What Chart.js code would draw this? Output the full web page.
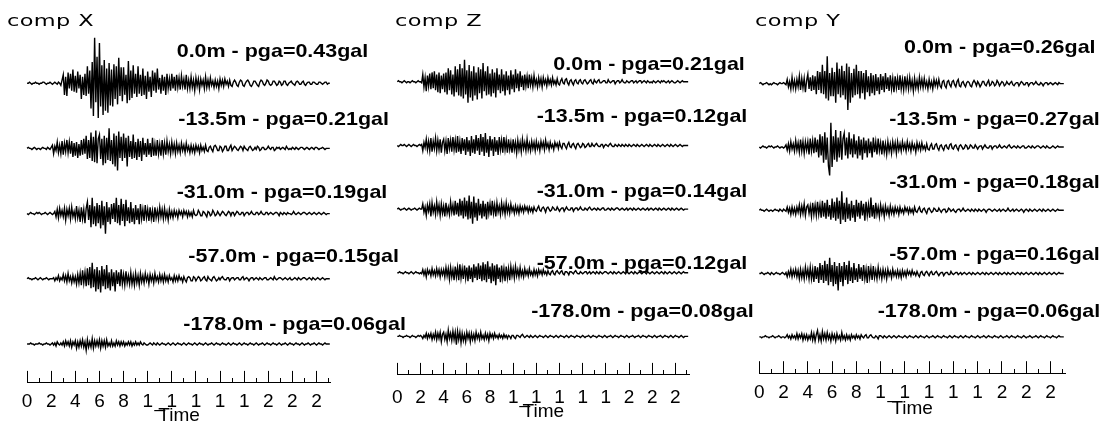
<!DOCTYPE html>
<html>
<head>
<meta charset="utf-8">
<script src="https://cdn.jsdelivr.net/npm/chart.js@4.4.1/dist/chart.umd.min.js"></script>
<style>
html,body{margin:0;padding:0;background:#fff;}
#wrap{position:relative;width:1106px;height:425px;}
#wrap canvas{position:absolute;left:0;top:0;}
</style>
</head>
<body>
<div id="wrap">
<canvas id="compX" width="1106" height="425"></canvas>
<canvas id="compZ" width="1106" height="425"></canvas>
<canvas id="compY" width="1106" height="425"></canvas>
</div>
<script>

// depth of each sensor (m) and peak ground acceleration (gal) per component
const depths = [0.0, -13.5, -31.0, -57.0, -178.0];
const pgaX = [0.43, 0.21, 0.19, 0.15, 0.06];
const pgaZ = [0.21, 0.12, 0.14, 0.12, 0.08];
const pgaY = [0.26, 0.27, 0.18, 0.16, 0.06];

// time axis labels, one per second (0..25)
const timeTicks = ['0','','2','','4','','6','','8','','1','_','1','','1','','1','','1','','2','','2','','2',''];

// sample step of the records (s), one row = one second
const dt = 0.1;

// acceleration records (gal), comp X
const accX0 = [
0,0,.01,0,-.01,0,0,.01,0,0,
-.01,0,0,.01,.01,0,-.01,0,0,.01,
0,-.01,0,.01,0,-.01,.01,0,-.02,.03,
.08,-.11,.06,-.12,.10,-.05,.09,-.07,.13,-.08,
.07,-.09,.11,-.05,.08,-.15,.06,-.11,.09,-.12,
.16,-.10,.12,-.24,.20,-.31,.43,-.18,.25,-.33,
.38,-.22,.17,-.30,.22,-.26,.14,-.28,.19,-.21,
.13,-.22,.18,-.15,.16,-.20,.24,-.12,.15,-.17,
.15,-.11,.08,-.19,.21,-.16,.12,-.14,.17,-.10,
.09,-.13,.16,-.10,.08,-.12,.14,-.11,.07,-.15,
.11,-.08,.06,-.13,.12,-.07,.10,-.09,.14,-.06,
.05,-.10,.08,-.07,.06,-.11,.09,-.05,.04,-.07,
.09,-.05,.06,-.07,.08,-.04,.05,-.06,.07,-.03,
.04,-.06,.08,-.05,.03,-.05,.06,-.04,.03,-.07,
.05,-.03,.04,-.06,.04,-.02,.03,-.05,.06,-.04,
.03,-.04,.05,-.02,.02,-.04,.03,-.03,.02,-.05,
.04,-.02,.03,-.03,.04,-.01,.02,-.03,.03,-.02,
-.03,.01,.03,.01,-.02,-.03,.01,.03,.02,-.02,
-.03,0,.02,.03,.01,-.02,-.03,-.01,.02,.02,
0,-.02,-.03,.01,.03,.02,-.01,-.02,0,.03,
.02,-.01,-.02,-.01,.02,.02,0,-.02,-.01,.02,
.01,-.02,-.01,.02,.02,-.01,-.02,0,.01,.02,
0,-.01,-.02,.01,.02,.01,-.01,-.01,.01,.02,
-.01,-.02,0,.01,.01,-.01,-.01,.01,.01,0,
-.01,-.01,.01,.01,0,-.01,0,.01,.01,-.01,
0,0];
const accX13 = [
0,.01,0,0,-.01,0,.01,0,-.01,0,
0,-.01,0,.01,0,0,-.01,.01,0,-.01,
.01,.03,-.05,.02,-.02,.06,-.04,.03,-.05,.07,
-.06,.05,-.03,.08,-.04,.06,-.05,.07,-.08,.05,
-.07,.06,-.09,.04,-.07,.08,-.06,.09,-.05,.12,
-.10,.08,-.09,.15,-.12,.11,-.13,.17,-.14,.09,
.13,-.10,.09,-.16,.12,-.14,.10,-.11,.19,-.12,
.08,-.15,.14,-.17,.12,-.21,.16,-.09,.11,-.12,
.14,-.09,.10,-.17,.12,-.08,.07,-.10,.13,-.09,
.06,-.11,.09,-.08,.07,-.12,.10,-.06,.05,-.08,
.09,-.06,.05,-.08,.10,-.07,.04,-.07,.08,-.05,
.04,-.07,.08,-.05,.05,-.06,.07,-.03,.04,-.05,
.06,-.03,.04,-.05,.05,-.03,.03,-.04,.05,-.02,
.03,-.04,.05,-.02,.02,-.04,.03,-.03,.02,-.04,
.03,-.02,.02,-.04,.03,-.02,.01,-.03,.03,-.02,
-.03,.01,.02,-.01,-.03,.02,.03,.01,-.02,-.02,
.02,.01,-.03,-.01,.02,.02,-.02,-.02,.01,.03,
-.02,0,.02,.01,-.01,-.02,0,.02,.01,-.02,
.02,0,-.01,-.02,.01,.02,0,-.02,-.01,.01,
-.01,.02,.01,-.02,-.01,.01,.01,-.01,-.01,0,
.02,0,-.01,.01,.01,-.02,-.01,.01,0,.01,
-.01,0,.01,0,-.01,.02,0,-.01,0,-.01,
.01,0,-.01,.01,0,-.01,0,.01,.01,0,
-.01,0,.01,0,-.01,0,.01,0,-.01,.01,
.01,0,-.01,0,0,.01,0,-.01,0,0,
0,0];
const accX31 = [
0,-.01,0,.01,0,0,-.01,0,.01,0,
.01,0,-.01,0,0,.01,0,-.01,0,.01,
0,-.01,0,.02,-.03,.04,-.04,.05,-.02,.03,
-.03,.05,-.06,.04,-.02,.05,-.05,.06,-.03,.02,
-.05,.07,-.04,.03,-.08,.06,-.05,.04,-.09,.05,
.11,-.06,.08,-.13,.15,-.10,.07,-.12,.10,-.09,
.08,-.14,.12,-.11,.07,-.19,.11,-.08,.06,-.10,
.09,-.05,.10,-.08,.15,-.09,.08,-.11,.14,-.07,
.09,-.12,.13,-.07,.06,-.09,.11,-.08,.05,-.10,
.08,-.06,.05,-.10,.09,-.05,.04,-.07,.08,-.04,
.04,-.07,.06,-.05,.03,-.08,.06,-.04,.03,-.05,
.06,-.03,.04,-.05,.05,-.04,.02,-.06,.04,-.03,
.02,-.04,.03,-.02,.02,-.04,.03,-.01,.02,-.03,
.03,-.01,.02,-.03,.02,-.02,.01,-.03,.03,-.01,
-.02,-.01,.03,.01,-.02,-.02,.02,.01,-.01,-.03,
.02,.01,-.02,-.01,.03,.01,-.02,-.01,.02,0,
-.02,0,.02,.01,-.01,-.02,0,.02,.01,-.02,
.01,.01,-.02,0,.02,.01,-.01,-.01,.01,.01,
-.02,0,.01,.01,-.01,0,.02,0,-.01,-.01,
.01,.01,-.01,0,.02,0,-.01,-.01,.01,.01,
-.01,0,.01,0,-.01,0,.01,.01,0,-.02,
.01,0,-.01,.01,0,-.01,.01,0,0,-.01,
0,.02,0,-.01,0,.01,0,-.01,0,.01,
.01,0,-.01,0,.01,0,-.01,0,.01,0,
-.01,0,.01,0,-.01,0,.01,0,-.01,0,
0,0];
const accX57 = [
0,.01,0,0,-.01,0,0,.01,0,-.01,
0,.01,0,-.01,0,0,.01,0,-.01,0,
0,0,.01,-.02,.01,-.01,.03,-.02,.01,-.01,
.04,-.02,.03,-.03,.05,-.02,.02,-.04,.03,-.03,
.02,-.05,.04,-.04,.05,-.06,.08,-.04,.06,-.07,
.10,-.06,.11,-.09,.15,-.08,.09,-.12,.11,-.10,
.08,-.13,.12,-.07,.09,-.10,.13,-.09,.06,-.11,
.09,-.07,.06,-.12,.08,-.05,.06,-.07,.09,-.05,
.04,-.06,.07,-.04,.03,-.05,.06,-.05,.03,-.06,
.05,-.04,.03,-.06,.05,-.03,.03,-.04,.05,-.02,
.03,-.05,.04,-.02,.03,-.04,.05,-.02,.02,-.03,
.04,-.02,.03,-.03,.04,-.02,.02,-.03,.03,-.01,
.01,-.03,.03,-.02,.02,-.02,.03,-.01,.01,-.03,
.02,-.01,-.03,.01,.02,.01,-.02,-.02,.02,.01,
-.02,0,.02,.01,-.02,-.01,.01,.02,-.01,-.02,
.02,0,-.01,-.02,.01,.02,0,-.02,-.01,.01,
-.01,.01,.02,0,-.01,-.01,.01,.01,-.02,0,
.01,.01,-.01,0,.01,.01,-.01,-.01,.01,.02,
-.01,0,.01,0,-.02,0,.01,.01,-.01,0,
.01,0,-.01,.01,0,-.01,0,.01,.01,-.01,
-.01,0,.01,0,-.01,.02,0,-.01,0,.01,
.01,0,-.01,0,.01,0,-.01,0,.01,-.01,
-.01,0,.01,0,-.01,.01,0,-.01,0,.01,
.01,0,-.01,0,.01,0,-.01,.01,0,-.01,
0,.01,0,-.01,0,.01,0,-.01,0,0,
0,0];
const accX178 = [
0,0,0,.01,0,0,-.01,0,0,0,
.01,0,0,-.01,0,0,.01,0,0,-.01,
0,.01,-.01,.01,-.02,.02,0,-.01,.01,-.01,
.02,-.02,.03,-.01,.02,-.02,.03,-.03,.02,-.01,
.03,-.04,.02,-.03,.03,-.02,.04,-.03,.02,-.06,
.04,-.03,.02,-.03,.05,-.04,.03,-.02,.03,-.02,
.04,-.04,.03,-.02,.03,-.03,.04,-.02,.01,-.02,
.03,-.02,.01,-.02,.03,-.01,.02,-.02,.02,-.01,
.02,-.02,.01,-.01,.02,-.01,.02,-.02,.01,-.01,
.02,-.01,.01,-.01,.02,0,-.01,.01,0,-.01,
-.01,0,.01,0,-.01,.01,0,-.01,.01,0,
-.01,0,.01,0,0,-.01,0,.01,0,-.01,
0,.01,0,-.01,0,.01,0,0,-.01,0,
.01,0,-.01,0,.01,0,0,-.01,0,.01,
0,-.01,0,.01,0,0,-.01,0,.01,0,
-.01,0,0,.01,0,-.01,0,.01,0,0,
-.01,0,.01,0,0,-.01,0,.01,0,-.01,
0,.01,0,0,-.01,0,.01,0,-.01,0,
.01,0,0,-.01,0,.01,0,0,-.01,0,
.01,0,-.01,0,0,.01,0,-.01,0,.01,
0,0,-.01,0,.01,0,0,-.01,0,.01,
0,-.01,0,0,.01,0,-.01,0,.01,0,
0,-.01,0,.01,0,0,-.01,0,.01,0,
-.01,0,0,.01,0,-.01,0,0,.01,0,
-.01,0,.01,0,0,-.01,0,.01,0,0,
0,0];

// comp Z
const accZ0 = [
0,.01,0,0,-.01,0,.01,0,-.01,0,
0,-.01,0,.01,0,0,-.01,0,.01,0,
0,-.01,.07,-.05,.04,-.09,.06,-.04,.08,-.07,
.09,-.06,.10,-.08,.07,-.10,.09,-.11,.06,-.07,
.08,-.10,.09,-.12,.13,-.08,.11,-.12,.07,-.14,
.15,-.10,.12,-.13,.17,-.14,.13,-.16,.21,-.12,
.11,-.20,.16,-.15,.10,-.18,.15,-.13,.09,-.17,
.14,-.11,.12,-.16,.18,-.09,.10,-.13,.15,-.12,
.08,-.14,.12,-.11,.09,-.15,.13,-.08,.07,-.11,
.12,-.09,.07,-.13,.10,-.08,.06,-.12,.11,-.07,
.07,-.10,.12,-.06,.08,-.09,.10,-.05,.06,-.08,
.07,-.04,.05,-.06,.07,-.03,.04,-.05,.06,-.03,
.02,-.05,.04,-.03,.03,-.05,.04,-.02,.02,-.04,
.04,-.02,.02,-.03,.04,-.02,.01,-.03,.03,-.02,
-.03,.01,.03,-.01,-.02,.02,.03,-.01,-.03,.01,
.02,-.01,-.03,.01,.02,-.01,-.02,.01,.02,-.01,
-.02,.01,.02,0,-.02,-.01,.01,.02,-.01,-.02,
.02,0,-.01,.01,.02,-.01,-.01,0,.01,.01,
-.01,-.01,.02,0,-.01,0,.01,.01,-.02,0,
.01,.01,-.01,0,.02,0,-.01,-.01,.01,0,
-.01,0,.01,.01,-.01,0,.01,-.01,0,.01,
.01,-.01,0,.01,0,-.01,.01,0,-.01,0,
-.01,.01,0,-.01,0,.01,0,-.01,.01,0,
.01,0,-.01,0,.01,-.01,0,.01,0,-.01,
-.01,0,.01,0,-.01,0,.01,0,0,0,
0,0];
const accZ13 = [
0,-.01,0,.01,0,0,.01,0,-.01,0,
.01,0,-.01,0,.01,0,0,-.01,0,.01,
0,.01,-.05,.03,-.02,.06,-.04,.04,-.05,.07,
-.06,.04,-.03,.07,-.05,.05,-.04,.06,-.07,.03,
.06,-.05,.04,-.08,.07,-.03,.05,-.06,.08,-.04,
.05,-.07,.09,-.06,.04,-.08,.07,-.05,.06,-.09,
.08,-.06,.05,-.10,.09,-.07,.06,-.08,.10,-.05,
.07,-.09,.11,-.06,.08,-.10,.12,-.07,.06,-.11,
.09,-.05,.06,-.10,.08,-.06,.05,-.09,.08,-.04,
.05,-.07,.08,-.04,.05,-.07,.06,-.04,.03,-.07,
.06,-.04,.03,-.07,.05,-.04,.03,-.06,.06,-.03,
.03,-.05,.06,-.04,.02,-.05,.04,-.03,.03,-.05,
.04,-.03,.02,-.05,.04,-.02,.03,-.04,.05,-.02,
.02,-.04,.03,-.02,.01,-.04,.03,-.01,.02,-.03,
.03,-.01,-.03,.02,.02,-.01,-.03,.01,.03,-.01,
-.02,.01,.02,-.01,-.03,.01,.02,0,-.02,-.01,
.02,.01,-.02,-.01,.01,.02,-.01,-.01,.02,0,
-.01,.01,.02,0,-.01,-.01,.01,.01,-.02,0,
.01,0,-.01,.01,.02,0,-.01,-.01,.01,0,
-.01,.01,0,-.01,.01,0,-.01,.01,0,-.01,
.01,0,-.01,0,.01,0,-.01,.01,0,-.01,
0,.01,0,-.01,0,.01,0,-.01,.01,0,
-.01,0,.01,0,-.01,.01,0,-.01,0,.01,
0,-.01,0,.01,0,-.01,.01,0,-.01,0,
.01,0,-.01,0,.01,0,-.01,0,0,0,
0,0];
const accZ31 = [
0,.01,0,-.01,0,0,.01,0,-.01,0,
.01,0,-.01,0,0,.01,0,-.01,0,.01,
0,0,.05,-.03,.02,-.06,.04,-.02,.05,-.07,
.06,-.03,.03,-.05,.07,-.03,.04,-.06,.05,-.04,
.03,-.07,.06,-.04,.02,-.05,.07,-.03,.04,-.06,
.08,-.05,.06,-.07,.10,-.06,.08,-.09,.11,-.07,
.08,-.10,.13,-.09,.07,-.14,.12,-.08,.06,-.11,
.10,-.06,.05,-.09,.08,-.07,.05,-.10,.07,-.04,
.05,-.06,.08,-.04,.04,-.07,.06,-.03,.03,-.05,
.06,-.03,.04,-.05,.06,-.03,.03,-.04,.05,-.02,
.02,-.04,.03,-.03,.02,-.04,.03,-.02,.02,-.03,
.03,-.01,.02,-.03,.02,-.02,.01,-.03,.02,-.01,
-.02,.01,.03,-.01,-.02,.01,.02,0,-.03,.01,
.02,0,-.02,-.01,.02,.01,-.01,-.01,.02,0,
-.02,0,.01,.01,-.02,0,.02,0,-.01,-.01,
.01,.01,-.02,0,.01,.01,-.01,0,.02,0,
-.01,-.01,.01,0,-.01,.01,.02,0,-.01,0,
.01,0,-.01,.01,0,-.01,0,.01,.01,-.01,
-.01,0,.01,0,-.01,.01,0,-.01,0,.01,
.01,0,-.01,0,.01,0,-.01,0,.01,-.01,
0,.01,0,-.01,.01,0,-.01,0,.01,0,
-.01,0,.01,0,-.01,0,.01,-.01,0,.01,
0,-.01,0,.01,0,-.01,.01,0,-.01,0,
.01,0,-.01,0,.01,0,-.01,.01,0,-.01,
0,.01,0,-.01,0,.01,0,-.01,0,0,
0,0];
const accZ57 = [
0,0,.01,0,0,-.01,0,.01,0,0,
-.01,0,.01,0,-.01,0,.01,0,0,-.01,
0,-.01,.03,-.02,.02,-.04,.03,-.01,.02,-.03,
.04,-.02,.02,-.03,.04,-.02,.03,-.04,.03,-.02,
.03,-.04,.05,-.03,.04,-.06,.05,-.04,.03,-.07,
.06,-.04,.05,-.07,.08,-.05,.04,-.06,.07,-.05,
.05,-.08,.07,-.06,.05,-.09,.08,-.05,.06,-.07,
.09,-.06,.07,-.08,.10,-.07,.08,-.09,.11,-.06,
.06,-.10,.09,-.08,.07,-.12,.08,-.06,.05,-.09,
.07,-.05,.04,-.08,.06,-.05,.04,-.07,.06,-.03,
.04,-.05,.06,-.03,.03,-.04,.05,-.03,.02,-.04,
.04,-.02,.02,-.03,.04,-.02,.01,-.03,.03,-.02,
.02,-.03,.03,-.01,.02,-.02,.03,-.01,.01,-.02,
.02,-.01,-.02,.01,.02,-.01,-.02,.01,.02,0,
-.01,.01,.02,-.01,-.02,.01,.01,0,-.02,.01,
.01,0,-.01,.01,.02,0,-.01,-.01,.01,0,
-.01,0,.01,.01,-.01,0,.01,-.01,0,.01,
0,-.01,.01,0,-.01,.01,0,-.01,0,.01,
.01,0,-.01,0,.01,0,-.01,.01,0,-.01,
0,.01,0,-.01,0,.01,0,-.01,.01,0,
-.01,0,.01,0,-.01,.01,0,-.01,0,.01,
0,-.01,0,.01,0,-.01,.01,0,-.01,0,
.01,0,-.01,0,.01,0,-.01,0,.01,0,
-.01,.01,0,-.01,0,.01,0,-.01,0,.01,
0,-.01,0,.01,0,-.01,0,.01,0,0,
0,0];
const accZ178 = [
0,0,.01,0,0,-.01,0,0,.01,0,
0,-.01,0,.01,0,0,-.01,0,.01,0,
.01,0,-.02,.01,-.01,.03,-.02,.02,-.01,.03,
-.03,.02,-.02,.04,-.03,.03,-.02,.04,-.05,.02,
.04,-.03,.02,-.05,.06,-.02,.03,-.04,.05,-.03,
.04,-.08,.05,-.03,.04,-.06,.03,-.04,.02,-.05,
.04,-.02,.03,-.05,.03,-.03,.02,-.04,.04,-.02,
.02,-.03,.04,-.02,.01,-.03,.03,-.02,.02,-.04,
.03,-.01,.02,-.02,.03,-.01,.01,-.02,.02,-.01,
.01,-.02,.02,-.01,.01,-.02,.01,0,-.02,.01,
.01,-.01,-.02,.01,.01,0,-.01,.01,.02,0,
-.01,0,.01,0,-.01,.01,0,-.01,0,.01,
0,-.01,0,.01,0,0,-.01,0,.01,0,
-.01,0,.01,0,0,-.01,0,.01,0,-.01,
0,.01,0,0,-.01,0,.01,0,-.01,0,
.01,0,0,-.01,0,.01,0,0,-.01,0,
.01,0,-.01,0,0,.01,0,-.01,0,.01,
0,0,-.01,0,.01,0,0,-.01,0,.01,
0,-.01,0,0,.01,0,-.01,0,.01,0,
0,-.01,0,.01,0,0,-.01,0,.01,0,
-.01,0,0,.01,0,-.01,0,0,.01,0,
-.01,0,.01,0,0,-.01,0,.01,0,0,
-.01,0,.01,0,-.01,0,0,.01,0,-.01,
0,.01,0,0,-.01,0,.01,0,-.01,0,
.01,0,0,-.01,0,.01,0,-.01,0,0,
0,0];

// comp Y
const accY0 = [
0,.01,0,-.01,0,0,.01,0,-.01,0,
-.01,0,.01,0,0,-.01,0,.01,0,0,
.01,0,-.01,.04,-.03,.02,-.05,.06,-.04,.03,
-.05,.04,-.03,.07,-.06,.05,-.04,.05,-.08,.03,
.09,-.05,.06,-.07,.08,-.06,.07,-.10,.12,-.06,
.11,-.09,.18,-.10,.12,-.14,.26,-.16,.10,-.12,
.15,-.12,.11,-.18,.20,-.10,.14,-.13,.17,-.11,
.12,-.15,.19,-.25,.16,-.18,.10,-.13,.14,-.11,
.18,-.10,.12,-.14,.12,-.09,.10,-.15,.13,-.08,
.07,-.12,.10,-.09,.08,-.11,.09,-.07,.06,-.10,
.09,-.06,.07,-.08,.10,-.05,.06,-.07,.08,-.05,
.05,-.08,.07,-.04,.05,-.06,.08,-.05,.04,-.06,
.07,-.04,.05,-.05,.06,-.04,.03,-.07,.05,-.04,
.03,-.05,.06,-.03,.04,-.04,.05,-.03,.02,-.05,
.04,-.03,.02,-.05,.04,-.02,.03,-.03,.04,-.02,
-.04,.02,.03,-.02,-.04,.02,.03,-.01,-.03,.02,
.03,-.01,-.03,.02,.04,-.02,-.03,.01,.02,-.01,
-.03,.01,.02,.01,-.02,-.03,.01,.03,.01,-.02,
.02,0,-.03,-.01,.02,.02,-.01,-.02,.01,.03,
-.02,-.01,.02,.01,-.02,-.01,.03,.01,-.02,0,
.02,.01,-.02,-.01,.02,0,-.01,.01,.02,-.01,
-.02,0,.01,.01,-.02,0,.02,.01,-.01,-.01,
.01,.01,-.02,0,.01,.01,-.01,0,.02,0,
-.01,-.01,.01,0,-.02,0,.01,.01,-.01,0,
.01,0,-.01,0,.01,0,-.01,.01,0,0,
0,0];
const accY13 = [
0,-.01,0,.01,0,0,-.01,0,.01,0,
.01,0,-.01,0,0,.01,0,-.01,0,0,
-.01,0,.02,-.03,.03,-.04,.05,-.02,.03,-.04,
.06,-.03,.04,-.05,.07,-.04,.05,-.06,.05,-.03,
.05,-.07,.08,-.04,.06,-.06,.09,-.05,.07,-.10,
.12,-.08,.10,-.15,.14,-.12,.09,-.18,-.27,.23,
-.19,.10,-.12,.16,-.14,.09,-.10,.15,-.12,.08,
.13,-.08,.09,-.11,.14,-.07,.08,-.10,.12,-.07,
.06,-.11,.10,-.08,.07,-.12,.09,-.06,.06,-.10,
.08,-.06,.05,-.10,.09,-.05,.05,-.07,.08,-.04,
.04,-.07,.06,-.05,.03,-.07,.05,-.04,.03,-.06,
.05,-.03,.04,-.06,.05,-.03,.03,-.04,.05,-.02,
.03,-.04,.05,-.02,.03,-.04,.04,-.02,.02,-.05,
.04,-.02,.03,-.03,.04,-.02,.01,-.03,.03,-.02,
-.03,.01,.03,-.02,-.02,.02,.03,-.01,-.03,.01,
.02,-.01,-.03,.01,.02,-.01,-.02,.02,.03,-.01,
-.02,.01,.02,-.01,-.03,.01,.02,0,-.02,-.01,
.02,.01,-.02,-.01,.02,.01,-.01,-.01,.02,0,
-.02,0,.01,.01,-.02,0,.02,0,-.01,-.01,
.01,.01,-.02,0,.01,.01,-.01,0,.02,0,
-.01,0,.01,0,-.01,.01,.02,0,-.01,0,
.01,0,-.01,.01,0,-.01,0,.01,.01,-.01,
-.01,0,.01,0,-.01,.01,0,-.01,0,.01,
.01,0,-.01,0,.01,0,-.01,.01,0,-.01,
-.01,0,.01,0,-.01,0,.01,0,0,0,
0,0];
const accY31 = [
0,.01,0,0,-.01,0,.01,0,-.01,0,
0,-.01,0,.01,0,0,-.01,.01,0,-.01,
.01,0,-.01,.03,-.02,.02,-.04,.03,-.03,.02,
-.04,.03,-.02,.05,-.04,.04,-.03,.06,-.05,.03,
.05,-.03,.04,-.06,.07,-.04,.05,-.05,.08,-.04,
.05,-.07,.09,-.06,.07,-.08,.10,-.06,.05,-.09,
.11,-.07,.08,-.10,.12,-.08,.09,-.13,.18,-.09,
.07,-.11,.12,-.08,.06,-.10,.09,-.07,.05,-.11,
.10,-.06,.07,-.08,.09,-.05,.06,-.10,.08,-.05,
.05,-.07,.12,-.06,.05,-.08,.07,-.04,.03,-.06,
.05,-.03,.03,-.06,.04,-.03,.02,-.05,.04,-.03,
.02,-.04,.03,-.02,.02,-.04,.03,-.02,.01,-.03,
.03,-.01,.02,-.03,.02,-.02,.01,-.03,.03,-.01,
-.02,.01,.03,-.01,-.02,.01,.02,-.01,-.03,.01,
.02,0,-.02,-.01,.02,.01,-.01,-.01,.02,0,
-.02,0,.01,.01,-.02,-.01,.02,.01,-.01,0,
.01,-.01,-.02,0,.01,.01,-.01,0,.02,0,
-.01,0,.01,0,-.01,.01,0,-.01,.01,0,
-.01,.01,0,-.01,0,.01,0,-.02,0,.01,
.01,0,-.01,0,.01,0,-.01,0,.01,-.01,
0,.01,0,-.01,0,.02,0,-.01,0,.01,
-.01,0,.01,0,-.01,0,.01,0,-.02,0,
.01,0,-.01,.01,0,-.01,0,.01,0,-.01,
0,.01,0,-.01,.01,0,-.01,0,.01,0,
-.01,0,.01,0,-.01,0,.01,0,0,0,
0,0];
const accY57 = [
0,0,.01,0,-.01,0,0,.01,0,-.01,
.01,0,-.01,0,.01,0,0,-.01,0,.01,
0,-.01,.01,-.03,.02,-.02,.04,-.03,.03,-.02,
.04,-.03,.03,-.05,.04,-.04,.03,-.05,.06,-.03,
.04,-.05,.06,-.05,.04,-.08,.07,-.05,.06,-.09,
.10,-.06,.08,-.09,.12,-.07,.09,-.11,.15,-.08,
.08,-.12,.11,-.10,.07,-.16,.10,-.08,.07,-.12,
.11,-.06,.08,-.10,.12,-.07,.06,-.09,.10,-.06,
.05,-.08,.09,-.05,.06,-.07,.08,-.05,.04,-.09,
.07,-.04,.05,-.06,.07,-.04,.03,-.05,.06,-.03,
.03,-.05,.04,-.03,.03,-.05,.04,-.02,.02,-.04,
.04,-.02,.02,-.03,.03,-.03,.02,-.04,.03,-.02,
.02,-.03,.03,-.01,.02,-.02,.03,-.01,.01,-.02,
.02,-.01,-.03,.01,.02,-.01,-.02,.01,.02,0,
-.02,.01,.02,-.01,-.01,.01,.02,0,-.02,0,
.01,.01,-.02,0,.01,.01,-.01,-.01,.02,0,
-.01,0,.01,.01,-.01,0,.01,-.01,0,.01,
0,-.01,0,.01,0,-.01,.01,0,-.01,0,
.01,0,-.01,0,.01,0,-.01,.01,0,-.01,
0,.01,0,-.01,0,.01,0,-.01,.01,0,
-.01,0,.01,0,-.01,.01,0,-.01,0,.01,
0,-.01,0,.01,0,-.01,.01,0,-.01,0,
.01,0,-.01,0,.01,0,-.01,0,.01,0,
-.01,.01,0,-.01,0,.01,0,-.01,0,.01,
0,-.01,0,.01,0,-.01,0,.01,0,0,
0,0];
const accY178 = [
0,0,-.01,0,0,.01,0,0,-.01,0,
0,.01,0,-.01,0,0,.01,0,-.01,0,
0,-.01,0,.02,-.01,.01,-.02,.02,-.01,.01,
-.02,.03,-.02,.02,-.01,.03,-.03,.02,-.02,.02,
-.03,.01,-.02,.04,-.03,.03,-.04,.02,.06,-.03,
.02,-.04,.05,-.02,.03,-.03,.04,-.02,.02,-.04,
.03,-.02,.02,-.04,.03,-.02,.01,-.03,.04,-.02,
.01,-.03,.02,-.02,.01,-.03,.02,-.01,.01,-.02,
.02,-.01,.01,-.02,.02,0,-.01,.01,.02,-.01,
-.01,.01,.02,0,-.01,-.01,.01,0,-.02,.01,
.01,0,-.01,.01,0,-.01,0,.01,0,-.01,
0,.01,0,-.01,0,.01,0,0,-.01,0,
.01,0,-.01,0,.01,0,0,-.01,0,.01,
0,-.01,0,.01,0,0,-.01,0,.01,0,
-.01,0,0,.01,0,-.01,0,.01,0,0,
-.01,0,.01,0,0,-.01,0,.01,0,-.01,
0,.01,0,0,-.01,0,.01,0,-.01,0,
.01,0,0,-.01,0,.01,0,0,-.01,0,
.01,0,-.01,0,0,.01,0,-.01,0,.01,
0,0,-.01,0,.01,0,0,-.01,0,.01,
0,-.01,0,0,.01,0,-.01,0,.01,0,
0,-.01,0,.01,0,0,-.01,0,.01,0,
-.01,0,0,.01,0,-.01,0,0,.01,0,
-.01,0,.01,0,0,-.01,0,.01,0,0,
-.01,0,.01,0,0,-.01,0,.01,0,0,
0,0];

// page layout of the three panels (pixels)
const panels = [
  { id: 'compX', title: 'comp X', titleX: 7, pga: pgaX,
    traces: [accX0, accX13, accX31, accX57, accX178],
    left: 22, right: 331, base: 83, gap: 64.75, axisY: 380.7, labelY: 400, timeY: 416,
    labels: [[176.7, 50], [178.3, 118.3], [176.7, 190.8], [188.3, 255], [183.3, 323.3]] },
  { id: 'compZ', title: 'comp Z', titleX: 395, pga: pgaZ,
    traces: [accZ0, accZ13, accZ31, accZ57, accZ178],
    left: 397.3, right: 689.3, base: 82, gap: 64, axisY: 376.7, labelY: 400, timeY: 412,
    labels: [[553.3, 63.3], [536.7, 115], [536.7, 190], [536.7, 261.7], [531.2, 310]] },
  { id: 'compY', title: 'comp Y', titleX: 755, pga: pgaY,
    traces: [accY0, accY13, accY31, accY57, accY178],
    left: 759.3, right: 1065, base: 83.5, gap: 63, axisY: 371.7, labelY: 391.7, timeY: 408.3,
    labels: [[904, 46], [889.2, 118.3], [889.2, 180.7], [889.2, 252.7], [877.7, 310]] }
];

const PX_PER_GAL = 105;
const TICK_LEN = 12;
const FONT_SIZE = 19;

function labelText(depth, pga){
  return depth.toFixed(1) + 'm - pga=' + pga.toFixed(2) + 'gal';
}

function drawPanel(p){

  let half = p.gap / 2 / PX_PER_GAL;
  let extra = (p.axisY - (p.base + 4.5 * p.gap)) / PX_PER_GAL;

  // x axis box: ticks point up into the plot, labels and title below
  let tickPad = p.labelY - p.axisY + TICK_LEN - FONT_SIZE / 2;
  let titleLine = FONT_SIZE * 0.6;
  let bottom = p.timeY + titleLine / 2;
  let titleTop = (bottom - p.axisY) - (TICK_LEN + titleLine + FONT_SIZE + tickPad);

  let scales = {
    x: {
      type: 'linear',
      position: 'bottom',
      min: 0,
      max: 25.2,
      ticks: {
        stepSize: 1,
        autoSkip: false,
        includeBounds: false,
        maxRotation: 0,
        padding: tickPad,
        color: '#000',
        font: { family: '"Liberation Sans", Arial, sans-serif', size: FONT_SIZE, lineHeight: 1 },
        callback: (v) => timeTicks[Math.round(v)] || ''
      },
      grid: {
        drawOnChartArea: false,
        drawTicks: true,
        tickLength: -TICK_LEN,
        tickColor: '#000',
        tickWidth: 1,
        // odd seconds get a short tick
        tickBorderDash: (c) => (c.tick && Math.round(c.tick.value) % 2 === 1) ? [5, 40] : []
      },
      border: { display: true, color: '#000', width: 1 },
      title: {
        display: true,
        text: 'Time',
        color: '#000',
        padding: { top: titleTop, bottom: 0 },
        font: { family: '"Liberation Sans", Arial, sans-serif', size: FONT_SIZE, lineHeight: 0.6 }
      }
    }
  };

  let datasets = [];

  p.traces.forEach((trace, j) => {
    let min = j === 4 ? -(half + extra) : -half;
    scales['y' + j] = {
      type: 'linear',
      display: false,
      position: 'left',
      stack: 'traces',
      stackWeight: half - min,
      weight: 5 - j,
      min: min,
      max: half
    };
    datasets.push({
      label: labelText(depths[j], p.pga[j]),
      data: trace.map((v, i) => ({ x: i * dt, y: v })),
      yAxisID: 'y' + j,
      borderColor: '#000',
      borderWidth: 1.4,
      pointRadius: 0,
      tension: 0,
      clip: false
    });
  });

  // panel title and depth / pga captions
  let captions = {
    id: 'captions',
    afterDraw(chart){
      let ctx = chart.ctx;
      ctx.save();
      ctx.fillStyle = '#000';
      ctx.textAlign = 'left';
      ctx.textBaseline = 'alphabetic';

      ctx.font = '16px "DejaVu Sans", sans-serif';
      ctx.letterSpacing = '0.3px';
      ctx.save();
      ctx.translate(p.titleX, 26);
      ctx.scale(1.4, 1);
      ctx.fillText(p.title, 0, 0);
      ctx.restore();

      ctx.letterSpacing = '0px';
      ctx.font = 'bold 19px "Liberation Sans", Arial, sans-serif';
      p.labels.forEach((pos, j) => {
        ctx.save();
        ctx.translate(pos[0], pos[1] + 7);
        ctx.scale(1.13, 1);
        ctx.fillText(chart.data.datasets[j].label, 0, 0);
        ctx.restore();
      });
      ctx.restore();
    }
  };

  new Chart(document.getElementById(p.id), {
    type: 'line',
    data: { datasets: datasets },
    options: {
      responsive: false,
      animation: false,
      events: [],
      layout: {
        padding: {
          left: p.left,
          right: 1106 - p.right,
          top: p.base - p.gap / 2,
          bottom: 425 - bottom
        }
      },
      plugins: {
        legend: { display: false },
        tooltip: { enabled: false }
      },
      scales: scales
    },
    plugins: [captions]
  });

}

panels.forEach(drawPanel);

</script>
</body>
</html>
